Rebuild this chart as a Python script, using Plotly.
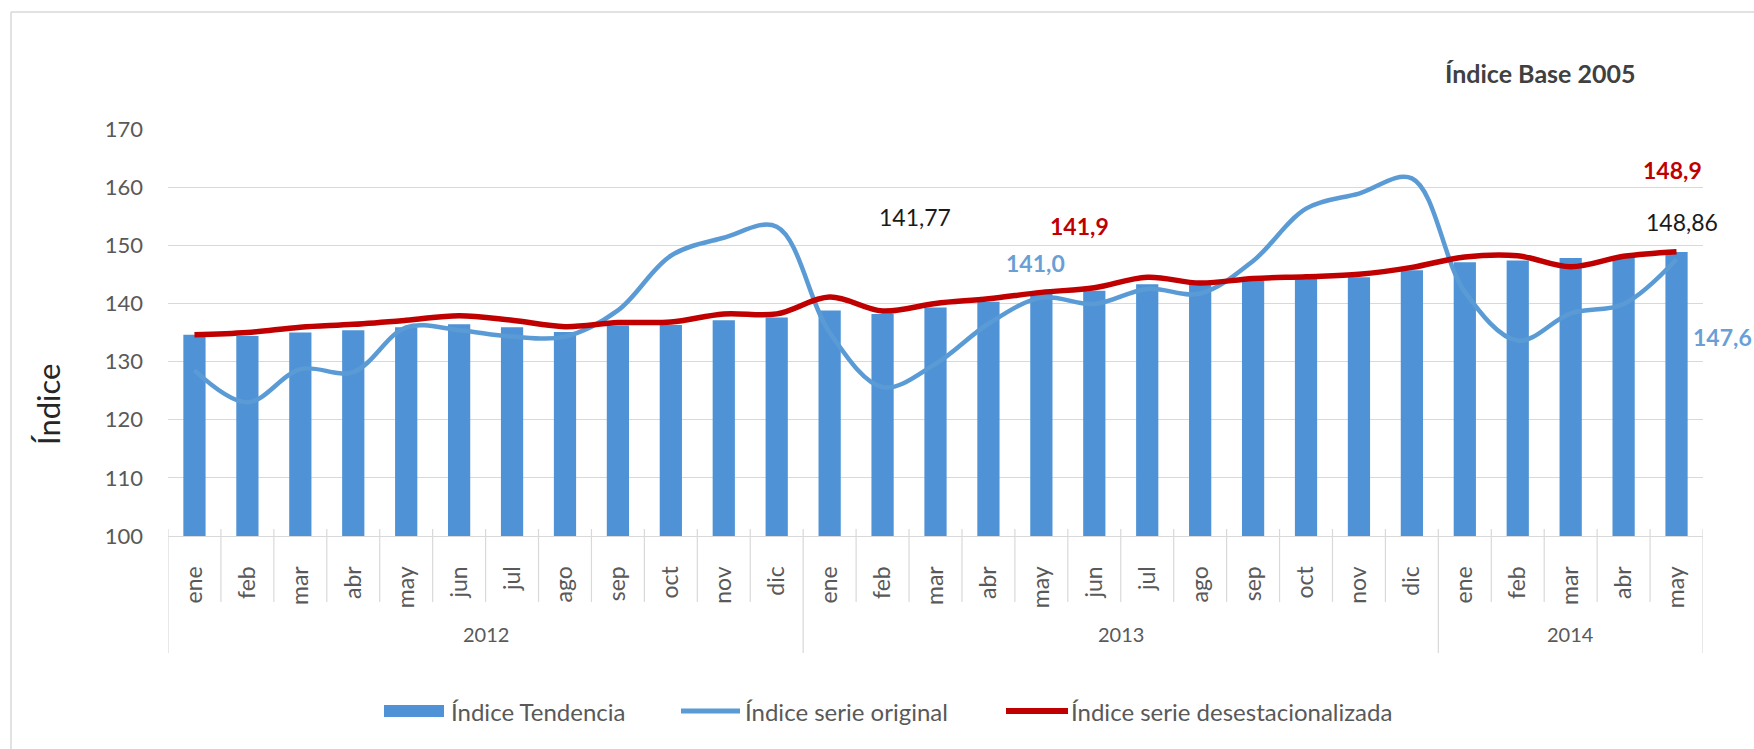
import plotly.graph_objects as go

# ---------------- data ----------------
meses = ['ene', 'feb', 'mar', 'abr', 'may', 'jun', 'jul', 'ago', 'sep', 'oct', 'nov', 'dic',
         'ene', 'feb', 'mar', 'abr', 'may', 'jun', 'jul', 'ago', 'sep', 'oct', 'nov', 'dic',
         'ene', 'feb', 'mar', 'abr', 'may']
anios = ['2012'] * 12 + ['2013'] * 12 + ['2014'] * 5

indice_tendencia = [134.6, 134.4, 135.0, 135.4, 135.9, 136.4, 135.9, 135.1, 136.2, 136.3, 137.1, 137.6,
                    138.8, 138.2, 139.3, 140.3, 141.77, 142.2, 143.3, 143.2, 143.9, 144.2, 144.5, 145.7,
                    147.1, 147.4, 147.8, 148.0, 148.86]
indice_original = [128.5, 123.0, 128.7, 128.2, 135.9, 135.4, 134.3, 134.3, 138.8, 148.2, 151.3, 153.2,
                   135.0, 125.6, 129.6, 136.5, 141.0, 139.9, 142.5, 141.7, 147.3, 156.3, 158.9, 161.5,
                   142.0, 133.6, 138.3, 139.9, 147.6]
indice_desest = [134.6, 135.0, 135.9, 136.4, 137.1, 137.9, 137.1, 136.0, 136.7, 136.8, 138.2, 138.2,
                 141.1, 138.7, 140.0, 140.8, 141.9, 142.7, 144.5, 143.5, 144.3, 144.6, 145.0, 146.2,
                 148.0, 148.2, 146.3, 148.1, 148.9]

series_names = ['Índice Tendencia', 'Índice serie original', 'Índice serie desestacionalizada']
y_ticks = [100, 110, 120, 130, 140, 150, 160, 170]

# ---------------- style ----------------
FONT = 'Lato'
GRAY = '#595959'
GRID = '#D9D9D9'
BAR_C = '#4F93D6'
BLUE_C = '#5B9BD5'
RED_C = '#C00000'

W, H = 1754, 749
L, R, T, B = 168, 51, 129, 213
PW, PH = W - L - R, H - T - B

def xp(px):
    return (px - L) / PW

def yp(py):
    return (H - B - py) / PH

x = list(range(len(meses)))

fig = go.Figure()
fig.add_trace(go.Bar(x=x, y=indice_tendencia, name=series_names[0], marker_color=BAR_C,
                     width=0.42, marker_line_width=0, showlegend=False))
fig.add_trace(go.Scatter(x=x, y=indice_original, name=series_names[1], mode='lines',
                         line=dict(color=BLUE_C, width=4.5, shape='spline', smoothing=1),
                         showlegend=False))
fig.add_trace(go.Scatter(x=x, y=indice_desest, name=series_names[2], mode='lines',
                         line=dict(color=RED_C, width=5.5, shape='spline', smoothing=1),
                         showlegend=False))

shapes = []
annotations = []

# chart-area border (top and left edges; the rest lies outside the picture)
shapes.append(dict(type='line', xref='paper', yref='paper', x0=xp(11), x1=xp(1754),
                   y0=yp(12), y1=yp(12), line=dict(color=GRID, width=1.5), layer='below'))
shapes.append(dict(type='line', xref='paper', yref='paper', x0=xp(11), x1=xp(11),
                   y0=yp(12), y1=yp(749), line=dict(color=GRID, width=1.5), layer='below'))

# category separators (months) and year boundaries
boundaries = [i - 0.5 for i in range(len(meses) + 1)]
for k, bnd in enumerate(boundaries):
    is_year = (k == 0 or k == len(meses) or anios[k] != anios[k - 1])
    shapes.append(dict(type='line', xref='x', yref='paper', x0=bnd, x1=bnd,
                       y0=yp(529), y1=yp(653 if is_year else 602),
                       line=dict(color=GRID, width=1.2), layer='below'))

# year labels
for yr in sorted(set(anios)):
    idx = [i for i, a in enumerate(anios) if a == yr]
    annotations.append(dict(x=(idx[0] + idx[-1]) / 2, y=yp(634), xref='x', yref='paper',
                            text=yr, showarrow=False, font=dict(family=FONT, size=20, color=GRAY),
                            xanchor='center', yanchor='middle'))

# data labels
def fmt(v, d):
    return f'{v:.{d}f}'.replace('.', ',')

last = len(meses) - 1
may13 = 16
labels = [
    (may13, indice_tendencia[may13], fmt(indice_tendencia[may13], 2), '#1A1A1A', False, -126, 76, 'center'),
    (may13, indice_desest[may13], fmt(indice_desest[may13], 1), RED_C, True, 38, 66, 'center'),
    (may13, indice_original[may13], fmt(indice_original[may13], 1), '#6A9FD6', True, -6, 35, 'center'),
    (last, indice_desest[last], fmt(indice_desest[last], 1), RED_C, True, -4, 82, 'center'),
    (last, indice_tendencia[last], fmt(indice_tendencia[last], 2), '#1A1A1A', False, 5, 30, 'center'),
    (last, indice_original[last], fmt(indice_original[last], 1), '#6A9FD6', True, 14, -78, 'left'),
]
for xi, yv, txt, col, bold, xs, ys, xa in labels:
    annotations.append(dict(x=xi, y=yv, xref='x', yref='y', text=f'<b>{txt}</b>' if bold else txt,
                            showarrow=False, xshift=xs, yshift=ys, xanchor=xa, yanchor='middle',
                            font=dict(family=FONT, size=23, color=col)))

# titles
annotations.append(dict(x=xp(1443), y=yp(73), xref='paper', yref='paper', text='<b>Índice Base 2005</b>',
                        showarrow=False, xanchor='left', yanchor='middle',
                        font=dict(family=FONT, size=25, color='#404040')))
annotations.append(dict(x=xp(48), y=yp(405), xref='paper', yref='paper', text='Índice',
                        showarrow=False, textangle=-90, xanchor='center', yanchor='middle',
                        font=dict(family=FONT, size=31, color='#262626')))

# legend (manual)
leg_y = yp(711)
shapes.append(dict(type='rect', xref='paper', yref='paper', x0=xp(384), x1=xp(444),
                   y0=yp(717), y1=yp(705), fillcolor=BAR_C, line=dict(width=0)))
shapes.append(dict(type='line', xref='paper', yref='paper', x0=xp(681), x1=xp(740),
                   y0=leg_y, y1=leg_y, line=dict(color=BLUE_C, width=5)))
shapes.append(dict(type='line', xref='paper', yref='paper', x0=xp(1006), x1=xp(1068),
                   y0=leg_y, y1=leg_y, line=dict(color=RED_C, width=6)))
for name, px0 in zip(series_names, [449, 743, 1069]):
    annotations.append(dict(x=xp(px0), y=leg_y, xref='paper', yref='paper', text=name,
                            showarrow=False, xanchor='left', yanchor='middle',
                            font=dict(family=FONT, size=24, color=GRAY)))

fig.update_layout(
    width=W, height=H,
    margin=dict(l=L, r=R, t=T, b=B, pad=0),
    paper_bgcolor='white', plot_bgcolor='white',
    font=dict(family=FONT, color=GRAY),
    shapes=shapes, annotations=annotations,
    showlegend=False,
    xaxis=dict(range=[-0.5, len(meses) - 0.5], tickvals=x, ticktext=meses, tickangle=-90,
               showgrid=False, zeroline=False, showline=True, linecolor=GRID, linewidth=1.2,
               ticks='', ticklabelstandoff=20, tickfont=dict(family=FONT, size=23, color=GRAY)),
    yaxis=dict(range=[100, 170], tickvals=y_ticks, showgrid=True, gridcolor=GRID, gridwidth=1.2,
               zeroline=False, showline=False, ticks='', ticklabelstandoff=24,
               tickfont=dict(family=FONT, size=22, color=GRAY)),
)

fig.write_html('out.html')
